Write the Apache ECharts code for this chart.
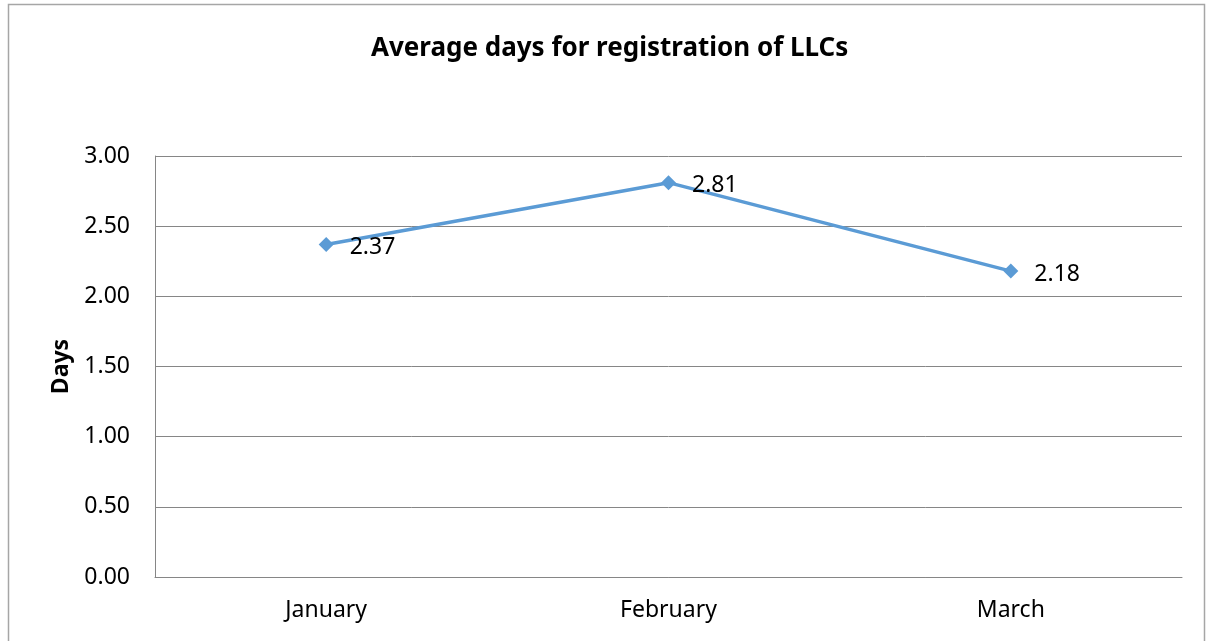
<!DOCTYPE html>
<html>
<head>
<meta charset="utf-8">
<script src="https://cdn.jsdelivr.net/npm/echarts@6/dist/echarts.min.js"></script>
<style>
  html, body { margin: 0; padding: 0; background: #fff; }
  #chart { width: 1206px; height: 641px; }
</style>
</head>
<body>
<div id="chart"></div>
<script>
// 数据
const months = ['January', 'February', 'March']
const avgDays = [2.37, 2.81, 2.18]
const yTicks = [0, 0.5, 1, 1.5, 2, 2.5, 3]

const myChart = echarts.init(document.getElementById('chart'))

const option = {
  backgroundColor: '#fff',
  textStyle: { fontFamily: 'Noto Sans' },
  title: {
    text: 'Average days for registration of LLCs',
    left: 366,
    top: 31,
    textStyle: { fontSize: 26, fontWeight: 'bold', color: '#000' }
  },
  graphic: [
    {
      type: 'rect',
      shape: { x: 8.5, y: 4.5, width: 1196, height: 700 },
      style: { fill: 'none', stroke: '#a6a6a6', lineWidth: 1.5 },
      silent: true
    }
  ],
  grid: {
    left: 155,
    top: 156,
    right: 24,
    bottom: 64
  },
  xAxis: {
    type: 'category',
    data: months,
    boundaryGap: true,
    axisTick: { show: false },
    axisLine: { lineStyle: { color: '#868686', width: 1 } },
    axisLabel: { color: '#000', fontSize: 23, margin: 22 }
  },
  yAxis: {
    type: 'value',
    min: yTicks[0],
    max: yTicks[yTicks.length - 1],
    interval: 0.5,
    name: 'Days',
    nameLocation: 'middle',
    nameGap: 82,
    nameTextStyle: { fontSize: 23, fontWeight: 'bold', color: '#000' },
    axisLine: { show: true, lineStyle: { color: '#868686', width: 1 } },
    axisTick: { show: false },
    axisLabel: {
      color: '#000',
      fontSize: 23,
      margin: 25,
      formatter: (v) => v.toFixed(2)
    },
    splitLine: { lineStyle: { color: '#868686', width: 1 } }
  },
  series: [
    {
      type: 'line',
      data: avgDays,
      symbol: 'diamond',
      symbolSize: 15,
      lineStyle: { color: '#5b9bd5', width: 3.5 },
      itemStyle: { color: '#5b9bd5' },
      label: {
        show: true,
        position: 'right',
        distance: 16,
        offset: [0, 3],
        color: '#000',
        fontSize: 23,
        formatter: (p) => p.value.toFixed(2)
      },
      animation: false
    }
  ],
  animation: false
}

myChart.setOption(option)
window.addEventListener('resize', function () {
  myChart.resize()
})
</script>
</body>
</html>
